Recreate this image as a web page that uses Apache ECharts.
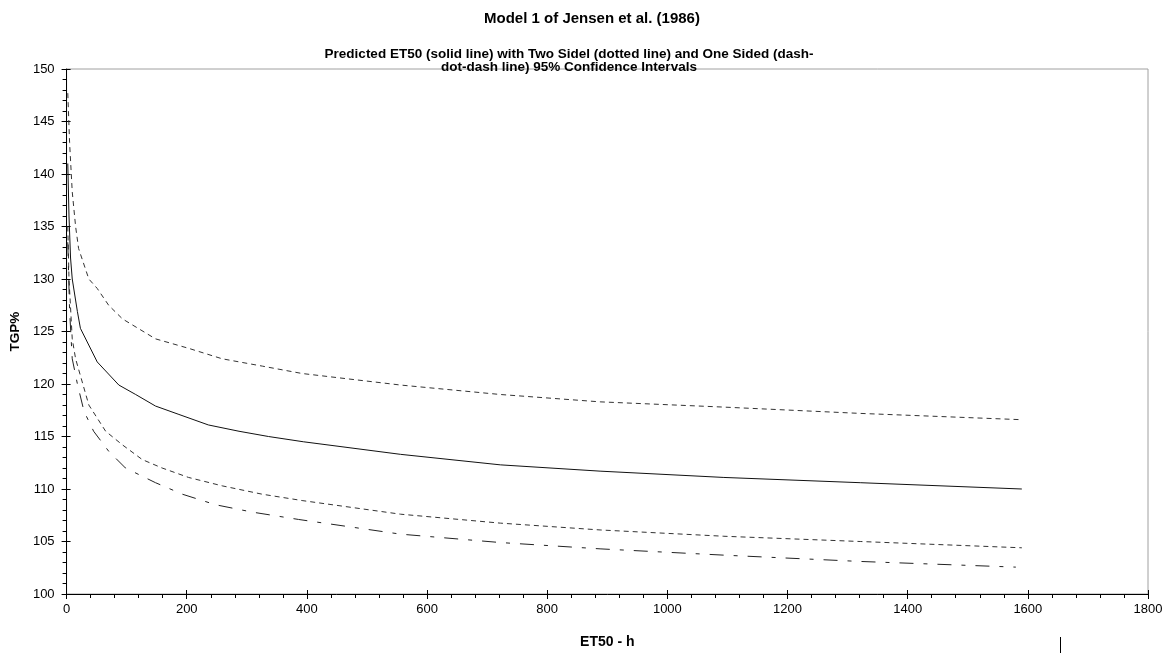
<!DOCTYPE html>
<html>
<head>
<meta charset="utf-8">
<script src="https://cdn.jsdelivr.net/npm/echarts@6/dist/echarts.min.js"></script>
<style>
html,body{margin:0;padding:0;background:#fff;}
#chart{width:1174px;height:654px;}
</style>
</head>
<body>
<div id="chart"></div>
<script>
// Predicted ET50 (solid)
const predT = [2, 4, 6.6, 9.4, 18, 23, 51, 87, 115, 148, 187, 236, 287, 336, 394, 556, 722, 888, 1094, 1321, 1590];
const predV = [141, 136, 132, 130, 126.9, 125.3, 122.1, 119.9, 119.0, 117.9, 117.1, 116.1, 115.5, 115.0, 114.5, 113.3, 112.3, 111.7, 111.1, 110.6, 110.0];
// Two-sided upper 95% CI (dotted)
const upT = [2, 5, 9.4, 15, 20, 37, 51, 70, 93, 148, 203, 259, 326, 392, 556, 722, 888, 1094, 1321, 1590];
const upV = [147.7, 143, 138.3, 135, 132.9, 130, 129.1, 127.5, 126.2, 124.3, 123.4, 122.4, 121.7, 121.0, 119.9, 119.0, 118.3, 117.8, 117.2, 116.6];
// Two-sided lower 95% CI (dotted)
const loT = [2, 4, 9.4, 15, 37, 65, 93, 126, 159, 203, 259, 326, 392, 556, 722, 888, 1094, 1321, 1590];
const loV = [135, 130, 124.3, 122.4, 118, 115.5, 114.2, 112.8, 112.0, 111.1, 110.3, 109.5, 108.9, 107.6, 106.75, 106.1, 105.5, 105.0, 104.4];
// One-sided 95% CI (dash-dot-dash)
const oneT = [2, 5, 9.4, 18, 29, 45, 70, 98, 148, 193, 248, 309, 386, 556, 722, 888, 1094, 1321, 1580];
const oneV = [133.5, 127, 122.4, 120, 117.4, 115.5, 113.6, 112.0, 110.6, 109.5, 108.5, 107.8, 107.1, 105.7, 104.9, 104.3, 103.7, 103.1, 102.56];

const titleText = 'Model 1 of Jensen et al. (1986)';
const subText = 'Predicted ET50 (solid line) with Two Sidel (dotted line) and One Sided (dash-\ndot-dash line) 95% Confidence Intervals';
const xName = 'ET50 - h';
const yName = 'TGP%';

const pairs = (t, v) => t.map((x, i) => [x, v[i]]);
const FONT = "'Liberation Sans',Arial,sans-serif";

const chart = echarts.init(document.getElementById('chart'), null, {renderer: 'canvas'});
const lineBase = {type: 'line', showSymbol: false, smooth: false, animation: false, silent: true, z: 3};
const plain = v => String(v);

chart.setOption({
  animation: false,
  backgroundColor: '#fff',
  title: [
    {text: titleText, left: 587, top: 6, textAlign: 'center',
     textStyle: {fontFamily: FONT, fontSize: 15, fontWeight: 'bold', color: '#000'}},
    {text: subText, left: 564, top: 43, textAlign: 'center',
     textStyle: {fontFamily: FONT, fontSize: 13.5, fontWeight: 'bold', color: '#000', lineHeight: 13}}
  ],
  grid: {left: 66, right: 26, top: 69, bottom: 57, show: true, borderColor: '#a0a0a0', borderWidth: 1, backgroundColor: 'transparent'},
  xAxis: [
    {type: 'value', min: 0, max: 1800, interval: 200, position: 'bottom',
     name: xName, nameLocation: 'middle', nameGap: 41,
     nameTextStyle: {fontFamily: FONT, fontSize: 14, fontWeight: 'bold', color: '#000'},
     axisLine: {show: true, onZero: false, lineStyle: {color: '#000', width: 1}},
     axisTick: {show: true, inside: false, length: 5, lineStyle: {color: '#000'}},
     minorTick: {show: true, splitNumber: 5, length: 4, lineStyle: {color: '#000'}},
     splitLine: {show: false}, minorSplitLine: {show: false},
     axisLabel: {margin: 9, fontFamily: FONT, fontSize: 13, color: '#000', formatter: plain}},
    {type: 'value', min: 0, max: 1800, interval: 200, position: 'bottom',
     axisLine: {show: false, onZero: false},
     axisTick: {show: true, inside: true, length: 4, lineStyle: {color: '#000'}},
     splitLine: {show: false}, axisLabel: {show: false}}
  ],
  yAxis: [
    {type: 'value', min: 100, max: 150, interval: 5, position: 'left',
     name: yName, nameLocation: 'middle', nameGap: 43, nameRotate: 90,
     nameTextStyle: {fontFamily: FONT, fontSize: 13.5, fontWeight: 'bold', color: '#000'},
     axisLine: {show: true, onZero: false, lineStyle: {color: '#000', width: 1}},
     axisTick: {show: true, inside: false, length: 5, lineStyle: {color: '#000'}},
     minorTick: {show: true, splitNumber: 5, length: 4, lineStyle: {color: '#000'}},
     splitLine: {show: false}, minorSplitLine: {show: false},
     axisLabel: {margin: 12, fontFamily: FONT, fontSize: 13, color: '#000', formatter: plain}},
    {type: 'value', min: 100, max: 150, interval: 5, position: 'left',
     axisLine: {show: false, onZero: false},
     axisTick: {show: true, inside: true, length: 4, lineStyle: {color: '#000'}},
     splitLine: {show: false}, axisLabel: {show: false}}
  ],
  series: [
    Object.assign({}, lineBase, {name: 'Predicted ET50', data: pairs(predT, predV),
      lineStyle: {color: '#111', width: 1, type: 'solid'}}),
    Object.assign({}, lineBase, {name: 'Two sided upper', data: pairs(upT, upV),
      lineStyle: {color: '#333', width: 1, type: [5, 4]}}),
    Object.assign({}, lineBase, {name: 'Two sided lower', data: pairs(loT, loV),
      lineStyle: {color: '#333', width: 1, type: [5, 4]}}),
    Object.assign({}, lineBase, {name: 'One sided', data: pairs(oneT, oneV),
      lineStyle: {color: '#222', width: 1, type: [14, 10, 4, 10]}})
  ],
  graphic: [
    {type: 'line', shape: {x1: 1060.5, y1: 637, x2: 1060.5, y2: 653}, style: {stroke: '#000', lineWidth: 1}}
  ]
});
</script>
</body>
</html>
